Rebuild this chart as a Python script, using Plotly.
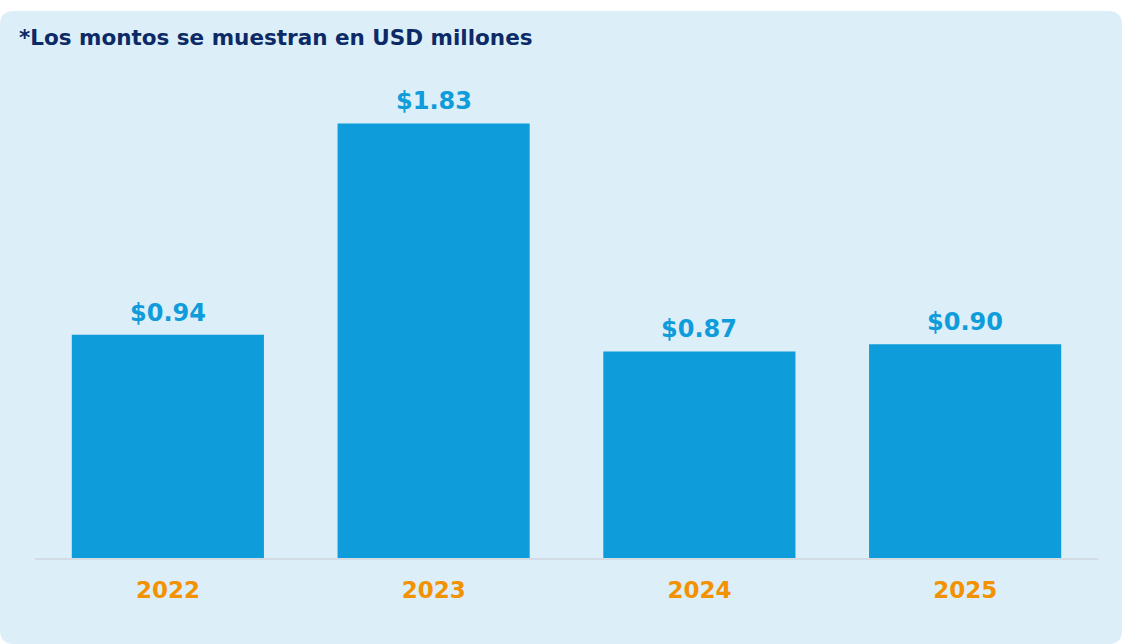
import plotly.graph_objects as go

# Yearly amounts (USD millions)
years = ["2022", "2023", "2024", "2025"]
amounts = [0.94, 1.83, 0.87, 0.90]
title_text = "*Los montos se muestran en USD millones"

FONT = "DejaVu Sans"
W, H = 1122, 644
ML, MR, MT, MB = 35, 24, 83, 86
PW, PH = W - ML - MR, H - MT - MB


def px_x(px):
    return (px - ML) / PW


def px_y(py):
    return (H - MB - py) / PH


# Rounded light-blue panel behind the chart
x0, x1, y0, y1, r = 0, 1122, 11, 644, 14
rx, ry = r / PW, r / PH
X0, X1, Y0, Y1 = px_x(x0), px_x(x1), px_y(y0), px_y(y1)
panel_path = (
    f"M {X0 + rx:.5f},{Y0:.5f} L {X1 - rx:.5f},{Y0:.5f} Q {X1:.5f},{Y0:.5f} {X1:.5f},{Y0 - ry:.5f} "
    f"L {X1:.5f},{Y1 + ry:.5f} Q {X1:.5f},{Y1:.5f} {X1 - rx:.5f},{Y1:.5f} "
    f"L {X0 + rx:.5f},{Y1:.5f} Q {X0:.5f},{Y1:.5f} {X0:.5f},{Y1 + ry:.5f} "
    f"L {X0:.5f},{Y0 - ry:.5f} Q {X0:.5f},{Y0:.5f} {X0 + rx:.5f},{Y0:.5f} Z"
)

fig = go.Figure(
    go.Bar(
        x=years,
        y=amounts,
        marker=dict(color="#0E9CDB", line=dict(width=0)),
        hoverinfo="skip",
    )
)

# Value labels above each bar (category index positions)
annotations = [
    dict(
        x=i, y=v, xref="x", yref="y",
        text=f"<b>${v:.2f}</b>",
        showarrow=False, yanchor="bottom", yshift=6,
        font=dict(family=FONT, size=24, color="#0E9CDB"),
    )
    for i, v in enumerate(amounts)
]
annotations.append(
    dict(
        x=px_x(17), y=px_y(38), xref="paper", yref="paper",
        text=f"<b>{title_text}</b>",
        showarrow=False, xanchor="left", yanchor="middle",
        font=dict(family=FONT, size=21.5, color="#0B2A66"),
    )
)

fig.update_layout(
    width=W, height=H,
    margin=dict(l=ML, r=MR, t=MT, b=MB, pad=0),
    paper_bgcolor="white",
    plot_bgcolor="rgba(0,0,0,0)",
    bargap=0.277,
    showlegend=False,
    shapes=[dict(type="path", path=panel_path, xref="paper", yref="paper",
                 fillcolor="#DCEEF8", line=dict(width=0), layer="below")],
    annotations=annotations,
    xaxis=dict(
        type="category",
        showgrid=False, zeroline=False,
        showline=True, linecolor="#D3DCE4", linewidth=2,
        ticks="outside", ticklen=10, tickcolor="rgba(0,0,0,0)",
        tickfont=dict(family=FONT, size=23, color="#F39200", weight="bold"),
        fixedrange=True,
    ),
    yaxis=dict(
        range=[0, 2.0], visible=False, showgrid=False, zeroline=False,
        fixedrange=True,
    ),
)

fig.write_html("out.html", config={"displayModeBar": False})
